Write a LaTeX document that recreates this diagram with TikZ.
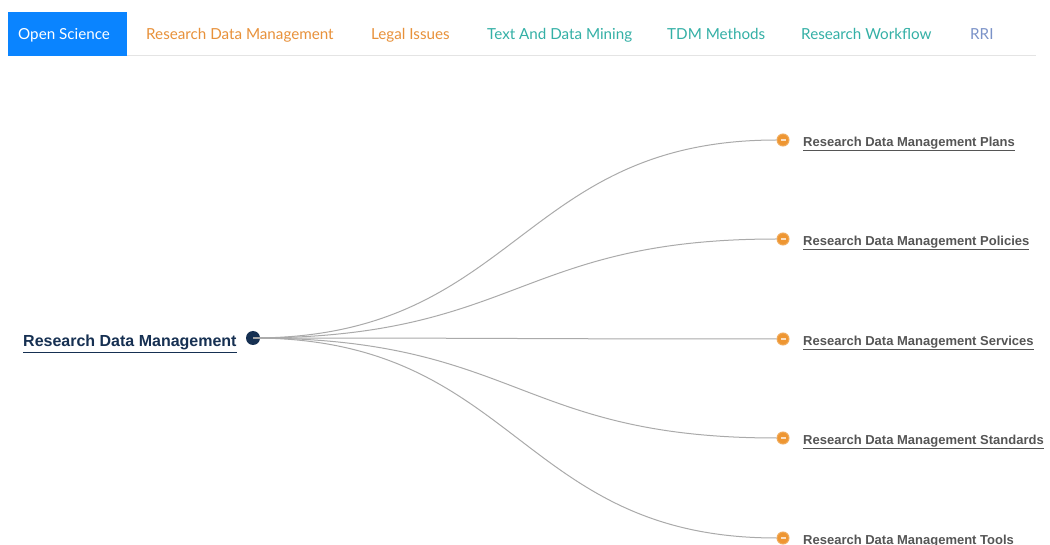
\documentclass[tikz,border=0pt]{standalone}
\usepackage{fontspec}
\usetikzlibrary{calc}
\setmainfont{Liberation Sans}
\newfontfamily\latofont{Lato}
\definecolor{tabblue}{RGB}{10,132,255}
\definecolor{taborange}{RGB}{232,145,58}
\definecolor{tabteal}{RGB}{52,176,166}
\definecolor{tabslate}{RGB}{122,146,200}
\definecolor{navy}{RGB}{22,48,82}
\definecolor{dotorange}{RGB}{238,150,50}
\definecolor{linkgrey}{RGB}{85,85,85}
\definecolor{edgegrey}{RGB}{170,170,170}
\definecolor{rulegrey}{RGB}{228,228,228}
\begin{document}
\begin{tikzpicture}[x=1pt,y=-1pt,
  tab/.style={anchor=base west,inner sep=0pt,font=\latofont\fontsize{15.2}{17}\selectfont},
  leaf/.style={anchor=base west,inner sep=0pt,text=linkgrey,font=\bfseries\fontsize{13}{15}\selectfont},
  leafdot/.style={circle,fill=dotorange,draw=dotorange!80!white,line width=1pt,minimum size=12pt,inner sep=0pt},
  edge/.style={draw=edgegrey,line width=1pt}]
\useasboundingbox (0,0) rectangle (1050,545);
\fill[white] (0,0) rectangle (1050,545);
% tab bar
\draw[rulegrey,line width=1pt] (8,56) -- (1036,56);
\fill[tabblue] (8,12) rectangle (127,56);
\node[tab,text=white] (t1) at (18,39.8) {Open Science};
\node[tab,text=taborange] (t2) at (146,39.8) {Research Data Management};
\node[tab,text=taborange] (t3) at (371,39.8) {Legal Issues};
\node[tab,text=tabteal] (t4) at (487,39.8) {Text And Data Mining};
\node[tab,text=tabteal] (t5) at (667,39.8) {TDM Methods};
\node[tab,text=tabteal] (t6) at (801,39.8) {Research Workflow};
\node[tab,text=tabslate] (t7) at (970,39.8) {RRI};
% root
\node[circle,fill=navy,minimum size=14pt,inner sep=0pt] (root) at (253,338) {};
\node[anchor=base west,inner sep=0pt,text=navy,font=\bfseries\fontsize{16}{18}\selectfont] (rootlabel) at (23,347) {\underline{Research Data Management}};
% leaves
\foreach \i/\y/\lbl in {1/140/Plans,2/239/Policies,3/339/Services,4/438/Standards,5/538/Tools}{
  \node[leafdot] (d\i) at (783,\y) {};
  \draw[edge] (root.center) .. controls (518,338) and (518,\y) .. (d\i.west);
  \fill[white!70!dotorange] ($(d\i.center)+(-2.5,0.6)$) rectangle ($(d\i.center)+(2.5,-0.6)$);
  \node[leaf] (l\i) at (803,\y+6.3) {\underline{Research Data Management \lbl}};
}
\end{tikzpicture}
\end{document}
